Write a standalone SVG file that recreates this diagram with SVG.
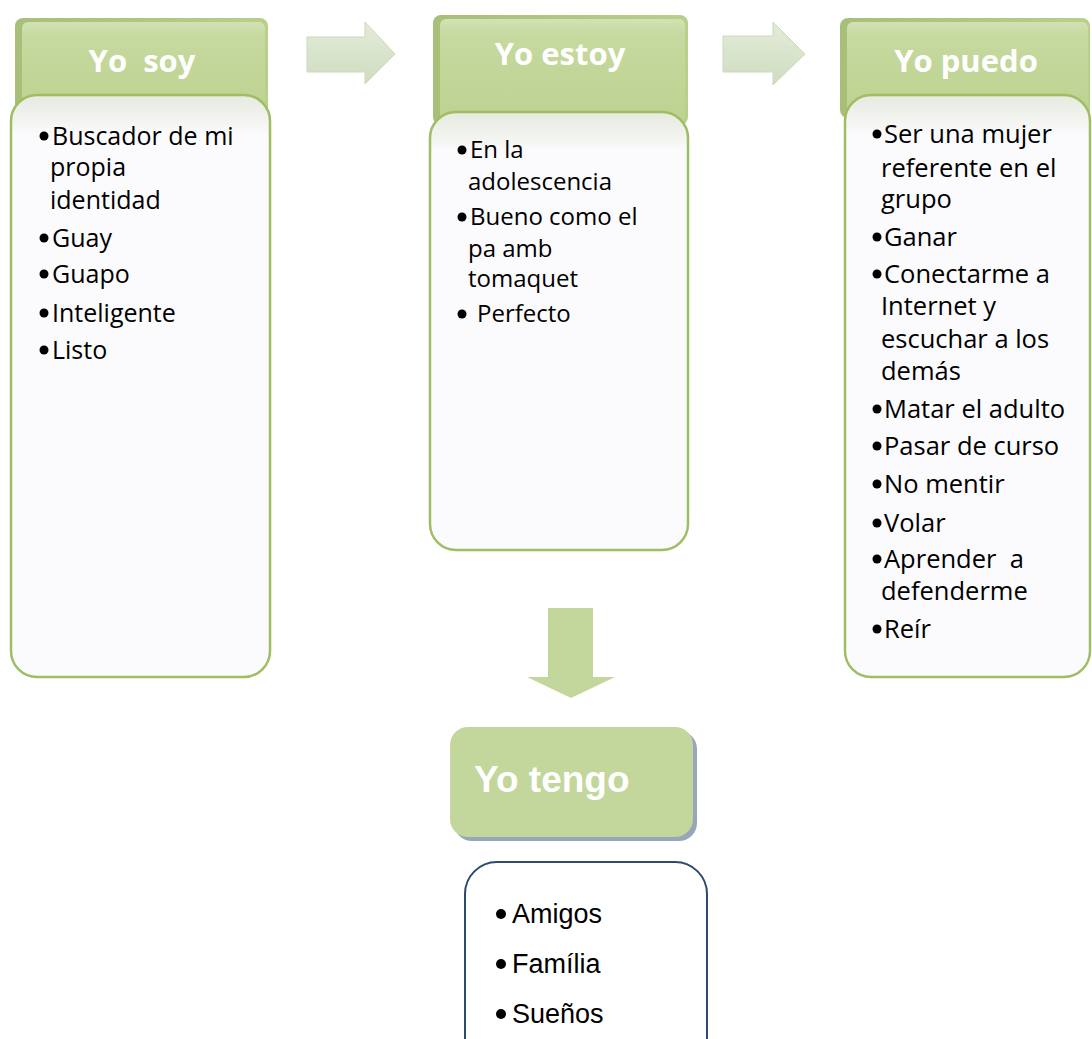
<svg xmlns="http://www.w3.org/2000/svg" width="1092" height="1039" viewBox="0 0 1092 1039">
<defs>
<linearGradient id="hdr" x1="0" y1="0" x2="0" y2="1">
<stop offset="0" stop-color="#d3e2b4"/>
<stop offset="0.15" stop-color="#c6d99f"/>
<stop offset="1" stop-color="#bdd291"/>
</linearGradient>
<linearGradient id="hdrSide" x1="0" y1="0" x2="1" y2="0">
<stop offset="0" stop-color="#a7bf78"/>
<stop offset="1" stop-color="#b9cf8c"/>
</linearGradient>
<linearGradient id="body1" x1="0" y1="0" x2="0" y2="1">
<stop offset="0" stop-color="#e6eae0"/>
<stop offset="0.05" stop-color="#f5f6f3"/>
<stop offset="0.07" stop-color="#fbfbfe"/>
</linearGradient>
<linearGradient id="body2" x1="0" y1="0" x2="0" y2="1">
<stop offset="0" stop-color="#e6eae0"/>
<stop offset="0.07" stop-color="#f5f6f3"/>
<stop offset="0.09" stop-color="#fbfbfe"/>
</linearGradient>
<linearGradient id="arr" x1="0" y1="0" x2="0" y2="1">
<stop offset="0" stop-color="#e2ebd8"/>
<stop offset="1" stop-color="#d0ddc0"/>
</linearGradient>
</defs>
<style>
.hdrtxt{font-family:"Open Sans","Liberation Sans",sans-serif;font-weight:bold;font-size:31px;fill:#ffffff;text-anchor:middle}
.item{font-family:"Open Sans","Liberation Sans",sans-serif;font-size:25px;fill:#000000}
.item3{font-family:"Open Sans","Liberation Sans",sans-serif;font-size:25.5px;fill:#000000}
.item2{font-family:"Open Sans","Liberation Sans",sans-serif;font-size:24px;fill:#000000}
.body{stroke:#9fbd62;stroke-width:2.5}
.arrow{fill:url(#arr);stroke:#ccd9bb;stroke-width:1}
.tengo{font-family:"Liberation Sans",Arial,sans-serif;font-weight:bold;font-size:37px;fill:#ffffff}
.list4{font-family:"Liberation Sans",Arial,sans-serif;font-size:27px;fill:#000000}
</style>

<g id="connectors">
<polygon class="arrow" points="307,37 365,37 365,22 395,54 365,84 365,72 307,72"/>
<polygon class="arrow" points="723,36 773,36 773,22 805,54 773,85 773,72 723,72"/>
<polygon fill="#c3d69b" points="548,608 593,608 593,677 615,677 571,698 527,677 548,677"/>
</g>

<g id="node-yo-soy">
<rect x="15" y="18" width="253" height="100" rx="8" fill="url(#hdrSide)"/>
<rect x="22" y="22" width="243" height="94" rx="6" fill="url(#hdr)"/>
<text class="hdrtxt" x="142" y="72" xml:space="preserve">Yo  soy</text>
<rect class="body" x="11" y="95" width="259" height="582" rx="26" fill="url(#body1)"/>
<circle cx="44" cy="136" r="4.5"/>
<text class="item" x="52" y="145">Buscador de mi</text>
<text class="item" x="50" y="176">propia</text>
<text class="item" x="50" y="209">identidad</text>
<circle cx="44" cy="238" r="4.5"/>
<text class="item" x="52" y="247">Guay</text>
<circle cx="44" cy="274" r="4.5"/>
<text class="item" x="52" y="283">Guapo</text>
<circle cx="44" cy="313" r="4.5"/>
<text class="item" x="52" y="322">Inteligente</text>
<circle cx="44" cy="350" r="4.5"/>
<text class="item" x="52" y="359">Listo</text>
</g>

<g id="node-yo-estoy">
<rect x="433" y="15" width="255" height="110" rx="8" fill="url(#hdrSide)"/>
<rect x="440" y="19" width="245" height="104" rx="6" fill="url(#hdr)"/>
<text class="hdrtxt" x="560" y="65">Yo estoy</text>
<rect class="body" x="430" y="112" width="258" height="438" rx="26" fill="url(#body2)"/>
<circle cx="462" cy="150" r="4.5"/>
<text class="item2" x="470" y="158">En la</text>
<text class="item2" x="468" y="190">adolescencia</text>
<circle cx="462" cy="217" r="4.5"/>
<text class="item2" x="470" y="225">Bueno como el</text>
<text class="item2" x="468" y="257">pa amb</text>
<text class="item2" x="468" y="287">tomaquet</text>
<circle cx="462" cy="314" r="4.5"/>
<text class="item2" x="477" y="322">Perfecto</text>
</g>

<g id="node-yo-puedo">
<rect x="840" y="18" width="250" height="100" rx="8" fill="url(#hdrSide)"/>
<rect x="847" y="22" width="241" height="94" rx="6" fill="url(#hdr)"/>
<text class="hdrtxt" x="966" y="72">Yo puedo</text>
<rect class="body" x="845" y="95" width="245" height="582" rx="26" fill="url(#body1)"/>
<circle cx="877" cy="134" r="4.5"/>
<text class="item3" x="884" y="143">Ser una mujer</text>
<text class="item3" x="881" y="177">referente en el</text>
<text class="item3" x="881" y="208">grupo</text>
<circle cx="877" cy="237" r="4.5"/>
<text class="item3" x="884" y="246">Ganar</text>
<circle cx="877" cy="274" r="4.5"/>
<text class="item3" x="884" y="283">Conectarme a</text>
<text class="item3" x="881" y="315">Internet y</text>
<text class="item3" x="881" y="348">escuchar a los</text>
<text class="item3" x="881" y="380">demás</text>
<circle cx="877" cy="409" r="4.5"/>
<text class="item3" x="884" y="418">Matar el adulto</text>
<circle cx="877" cy="446" r="4.5"/>
<text class="item3" x="884" y="455">Pasar de curso</text>
<circle cx="877" cy="484" r="4.5"/>
<text class="item3" x="884" y="493">No mentir</text>
<circle cx="877" cy="523" r="4.5"/>
<text class="item3" x="884" y="532">Volar</text>
<circle cx="877" cy="559" r="4.5"/>
<text class="item3" x="884" y="568" xml:space="preserve">Aprender  a</text>
<text class="item3" x="881" y="600">defenderme</text>
<circle cx="877" cy="629" r="4.5"/>
<text class="item3" x="884" y="638">Reír</text>
</g>

<g id="node-yo-tengo">
<rect x="454" y="731" width="243" height="110" rx="18" fill="#98a6bb"/>
<rect x="450" y="727" width="243" height="110" rx="18" fill="#c3d69b"/>
<text class="tengo" x="474" y="792">Yo tengo</text>
</g>

<g id="node-tengo-list">
<rect x="465" y="862" width="242" height="210" rx="32" fill="#ffffff" stroke="#2d4a70" stroke-width="2"/>
<circle cx="501" cy="914" r="5"/>
<text class="list4" x="512" y="923">Amigos</text>
<circle cx="501" cy="964" r="5"/>
<text class="list4" x="512" y="973">Família</text>
<circle cx="501" cy="1014" r="5"/>
<text class="list4" x="512" y="1023">Sueños</text>
</g>
</svg>
